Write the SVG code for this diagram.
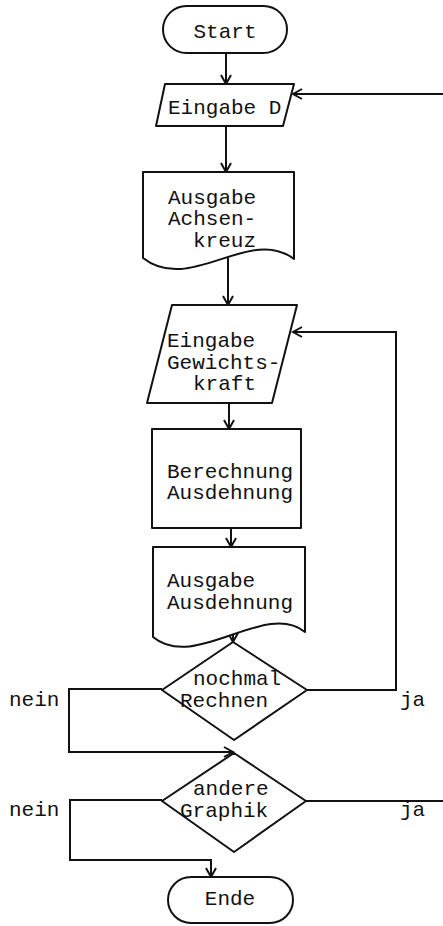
<svg xmlns="http://www.w3.org/2000/svg" width="443" height="926" viewBox="0 0 443 926">
  <style>
    .shape { fill: #fff; stroke: #111; stroke-width: 2; stroke-linejoin: round; }
    .wire { fill: none; stroke: #111; stroke-width: 2; }
    text { font-family: "Liberation Mono", "Courier New", monospace; font-size: 21px; fill: #111; }
  </style>
  <defs>
    <marker id="arrow" markerUnits="userSpaceOnUse" markerWidth="14" markerHeight="14" refX="10" refY="6" orient="auto">
      <path d="M1,1 L10,6 L1,11" fill="none" stroke="#111" stroke-width="2"/>
    </marker>
  </defs>

  <g id="connectors">
    <path class="wire" d="M226,53 V84" marker-end="url(#arrow)"/>
    <path class="wire" d="M443,94 H293" marker-end="url(#arrow)"/>
    <path class="wire" d="M226,126 V172" marker-end="url(#arrow)"/>
    <path class="wire" d="M228,250 V305" marker-end="url(#arrow)"/>
    <path class="wire" d="M229,403 V429" marker-end="url(#arrow)"/>
    <path class="wire" d="M231,528 V547" marker-end="url(#arrow)"/>
    <path class="wire" d="M233,628 V642" marker-end="url(#arrow)"/>
    <path class="wire" d="M307,690 H396 V332 H293" marker-end="url(#arrow)"/>
    <path class="wire" d="M162,689 H69 V752 H233" marker-end="url(#arrow)"/>
    <path class="wire" d="M306,801 H443"/>
    <path class="wire" d="M162,800 H70 V860 H211 V877" marker-end="url(#arrow)"/>
  </g>

  <g id="start">
    <rect class="shape" x="163" y="6" width="124" height="47" rx="23.5"/>
    <text x="225" y="38" text-anchor="middle">Start</text>
  </g>

  <g id="eingabe-d">
    <polygon class="shape" points="165,84 294,84 283,126 156,126"/>
    <text x="168" y="114">Eingabe D</text>
  </g>

  <g id="ausgabe-achsenkreuz">
    <path class="shape" d="M143,172 H294 V259 C250,225 190,295 143,258 Z"/>
    <text x="168" y="204">Ausgabe</text>
    <text x="168" y="225">Achsen-</text>
    <text x="193" y="247">kreuz</text>
  </g>

  <g id="eingabe-gewichtskraft">
    <polygon class="shape" points="172,305 297,305 272,403 147,403"/>
    <text x="167" y="347">Eingabe</text>
    <text x="167" y="369">Gewichts-</text>
    <text x="193" y="390">kraft</text>
  </g>

  <g id="berechnung">
    <rect class="shape" x="152" y="429" width="149" height="99"/>
    <text x="167" y="478">Berechnung</text>
    <text x="167" y="499">Ausdehnung</text>
  </g>

  <g id="ausgabe-ausdehnung">
    <path class="shape" d="M153,547 H305 V632 C265,600 195,672 153,637 Z"/>
    <text x="167" y="587">Ausgabe</text>
    <text x="167" y="609">Ausdehnung</text>
  </g>

  <g id="nochmal-rechnen">
    <polygon class="shape" points="233,642 307,690 234,740 162,690"/>
    <text x="193" y="685">nochmal</text>
    <text x="180" y="707">Rechnen</text>
    <text x="9" y="706">nein</text>
    <text x="400" y="706">ja</text>
  </g>

  <g id="andere-graphik">
    <polygon class="shape" points="234,753 306,801 234,852 162,801"/>
    <text x="193" y="795">andere</text>
    <text x="180" y="817">Graphik</text>
    <text x="9" y="816">nein</text>
    <text x="400" y="816">ja</text>
  </g>

  <g id="ende">
    <rect class="shape" x="168" y="877" width="125" height="46" rx="23"/>
    <text x="230" y="905" text-anchor="middle">Ende</text>
  </g>
</svg>
